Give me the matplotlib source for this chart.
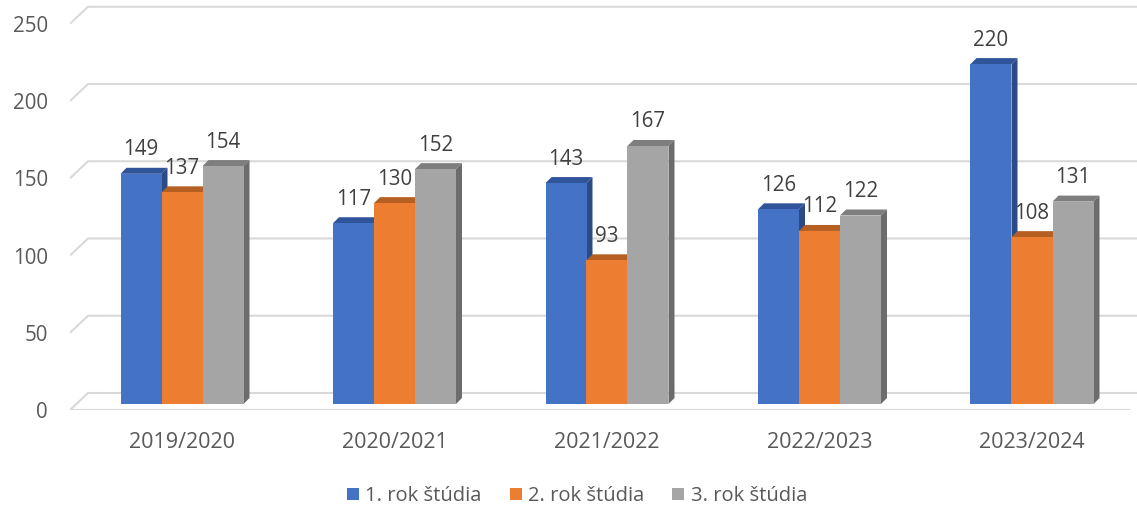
import matplotlib
matplotlib.use("Agg")
import matplotlib.pyplot as plt
from matplotlib.patches import Polygon, Patch

plt.rcParams["font.family"] = ["Open Sans", "DejaVu Sans"]

years = ["2019/2020", "2020/2021", "2021/2022", "2022/2023", "2023/2024"]
series_names = ["1. rok štúdia", "2. rok štúdia", "3. rok štúdia"]
first_year = [149, 117, 143, 126, 220]
second_year = [137, 130, 93, 112, 108]
third_year = [154, 152, 167, 122, 131]
y_ticks = [0, 50, 100, 150, 200, 250]

# front, top, side colours per series
face_colors = ["#4472C4", "#ED7D31", "#A5A5A5"]
top_colors = ["#30549A", "#B65F22", "#7E7E7E"]
side_colors = ["#2C4B85", "#A2531C", "#6C6C6C"]

# pixel geometry of the pseudo 3d look
px_cat = 212.5          # pixels per category
px_val = 1.545          # pixels per unit of value
bar_w = 41 / px_cat     # bar width in category units
bar_dx = 6 / px_cat     # bar depth offset
bar_dy = 6 / px_val
floor_front = -6 / px_val   # floor front edge, relative to bar front
wall_dx = 18 / px_cat
wall_dy = 17 / px_val

fig = plt.figure(figsize=(11.37, 5.09), dpi=100)
left_px, right_px, bottom_px = 70, 1137, 410
ax = fig.add_axes([left_px / 1137, (509 - bottom_px) / 509,
                   (right_px - left_px) / 1137, bottom_px / 509])
x_min = (left_px - 182) / px_cat
x_max = (right_px - 182) / px_cat
ax.set_xlim(x_min, x_max)
ax.set_ylim(-(bottom_px - 404) / px_val, 404 / px_val)
for s in ax.spines.values():
    s.set_visible(False)

grid_kw = dict(color="#D9D9D9", linewidth=1.5, zorder=0,
               solid_capstyle="butt")

# back wall gridlines with their slanted left part
for v in y_ticks:
    y0 = v + floor_front
    y1 = y0 + wall_dy
    ax.plot([x_min, x_min + wall_dx, x_max], [y0, y1, y1], **grid_kw)

# floor front edge
floor_end = (1130 - 182) / px_cat
ax.plot([x_min, floor_end], [floor_front, floor_front], **grid_kw)

series = [first_year, second_year, third_year]
for i, values in enumerate(series):
    for c, v in enumerate(values):
        xl = c - 1.5 * bar_w + i * bar_w
        xr = xl + bar_w
        top = Polygon([(xl, v), (xr, v), (xr + bar_dx, v + bar_dy),
                       (xl + bar_dx, v + bar_dy)],
                      closed=True, facecolor=top_colors[i],
                      edgecolor="none", zorder=2)
        side = Polygon([(xr, 0), (xr, v), (xr + bar_dx, v + bar_dy),
                        (xr + bar_dx, bar_dy)],
                       closed=True, facecolor=side_colors[i],
                       edgecolor="none", zorder=2)
        ax.add_patch(top)
        ax.add_patch(side)
        ax.bar(xl, v, width=bar_w, align="edge", color=face_colors[i],
               zorder=2)
        ax.annotate(str(v), (xl + bar_w / 2, v), xytext=(0, 24),
                    textcoords="offset pixels", ha="center", va="center",
                    fontsize=14.8, color="#404040", zorder=5)

ax.set_yticks([v + floor_front for v in y_ticks],
              [str(v) for v in y_ticks])
ax.set_xticks(range(len(years)), years)
ax.tick_params(axis="y", length=0, pad=16, labelsize=14.8,
               labelcolor="#595959")
ax.tick_params(axis="x", length=0, pad=16, labelsize=15.5,
               labelcolor="#595959")

handles = [Patch(facecolor=col, edgecolor="none") for col in face_colors]
fig.legend(handles, series_names, loc="center",
           bbox_to_anchor=(577 / 1137, 1 - 496 / 509), ncol=3,
           frameon=False, fontsize=14.5, labelcolor="#595959",
           handlelength=0.6, handleheight=0.6, handletextpad=0.3,
           columnspacing=1.4)

fig.savefig("out.png", dpi=100)
